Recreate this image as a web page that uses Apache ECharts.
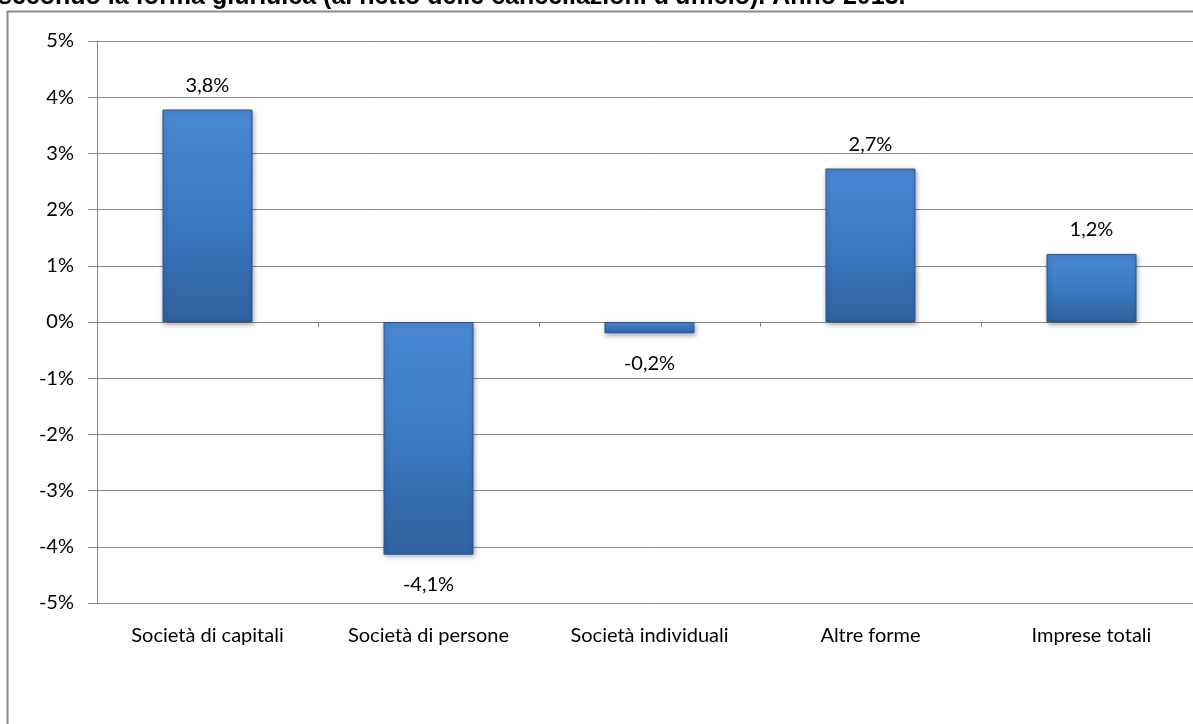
<!DOCTYPE html>
<html>
<head>
<meta charset="utf-8">
<script src="https://cdn.jsdelivr.net/npm/echarts@6/dist/echarts.min.js"></script>
<style>
html,body{margin:0;padding:0;background:#fff;overflow:hidden;width:1193px;height:724px;}
#c{width:1202px;height:724px;}
</style>
</head>
<body>
<div id="c"></div>
<script>
var titleText = "secondo la forma giuridica (al netto delle cancellazioni d'ufficio). Anno 2013.";
var categories = ["Società di capitali", "Società di persone", "Società individuali", "Altre forme", "Imprese totali"];
var values = [3.78, -4.14, -0.2, 2.73, 1.21];
var yMin = -5, yMax = 5, yStep = 1;

var FONT = "Lato";
var chart = echarts.init(document.getElementById('c'), null, {renderer: 'canvas'});

function fmt(v) { return v.toFixed(1).replace('.', ',') + '%'; }

var barColor = {
  type: 'linear', x: 0, y: 0, x2: 0, y2: 1,
  colorStops: [
    {offset: 0, color: '#4a89d6'},
    {offset: 0.5, color: '#3d79c3'},
    {offset: 1, color: '#30619f'}
  ]
};

var seriesData = values.map(function (v) {
  return {
    value: v,
    label: {
      position: v >= 0 ? 'top' : 'bottom',
      distance: v >= 0 ? 14 : 20
    }
  };
});

chart.setOption({
  animation: false,
  backgroundColor: '#ffffff',
  graphic: [
    {
      type: 'rect', silent: true,
      shape: {x: 7.5, y: 11.5, width: 1300, height: 800},
      style: {fill: 'none', stroke: '#8c8c8c', lineWidth: 2}
    },
    {
      type: 'text', silent: true, x: -2, y: -15,
      style: {text: titleText, font: 'bold 25px "Liberation Sans"', fill: '#000'}
    }
  ],
  grid: {left: 97, right: 0, top: 41, height: 562, containLabel: false},
  xAxis: [
    {
      type: 'category', data: categories,
      axisLine: {show: true, onZero: true, lineStyle: {color: '#868686', width: 1}},
      axisTick: {show: true, length: 5, inside: false, alignWithLabel: false, lineStyle: {color: '#868686'}},
      axisLabel: {show: false},
      splitLine: {show: false}
    },
    {
      type: 'category', data: categories, position: 'bottom',
      axisLine: {show: false, onZero: false},
      axisTick: {show: false},
      axisLabel: {show: true, margin: 23, color: '#000', fontFamily: FONT, fontSize: 20},
      splitLine: {show: false}
    }
  ],
  yAxis: {
    type: 'value', min: yMin, max: yMax, interval: yStep,
    axisLine: {show: true, lineStyle: {color: '#868686', width: 1}},
    axisTick: {show: true, length: 9, inside: false, lineStyle: {color: '#868686'}},
    axisLabel: {margin: 23, color: '#000', fontFamily: FONT, fontSize: 20, formatter: '{value}%'},
    splitLine: {show: true, lineStyle: {color: '#8c8c8c', width: 1}}
  },
  series: [{
    type: 'bar', xAxisIndex: 0, data: seriesData, barWidth: 90,
    itemStyle: {
      color: barColor,
      borderColor: '#2a5590', borderWidth: 1,
      shadowColor: 'rgba(0,0,0,0.35)', shadowBlur: 5, shadowOffsetX: 1, shadowOffsetY: 2
    },
    label: {
      show: true, color: '#000', fontFamily: FONT, fontSize: 20,
      formatter: function (p) { return fmt(p.value); }
    }
  }]
});
</script>
</body>
</html>
